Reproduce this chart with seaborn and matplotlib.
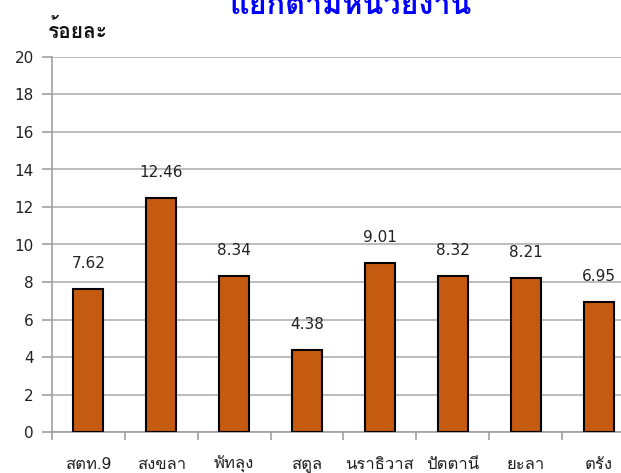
import matplotlib
matplotlib.use("Agg")
import matplotlib.pyplot as plt
import seaborn as sns
from matplotlib import font_manager, ft2font

categories = ["สตท.9", "สงขลา", "พัทลุง", "สตูล", "นราธิวาส", "ปัตตานี", "ยะลา", "ตรัง"]
values = [7.62, 12.46, 8.34, 4.38, 9.01, 8.32, 8.21, 6.95]
value_labels = ["7.62", "12.46", "8.34", "4.38", "9.01", "8.32", "8.21", "6.95"]
y_ticks = [0, 2, 4, 6, 8, 10, 12, 14, 16, 18, 20]
title_text = "แยกตามหน่วยงาน"
ylabel_text = "ร้อยละ"

# find a font with Thai glyphs
thai_font = None
for f in font_manager.fontManager.ttflist:
    try:
        cm = ft2font.FT2Font(f.fname).get_charmap()
    except Exception:
        continue
    if 0x0E23 in cm and 0x0E34 in cm:
        thai_font = f.name
        break

sns.set_theme(style="white")
fams = ["DejaVu Sans"] + ([thai_font] if thai_font else [])
plt.rcParams["font.family"] = fams
thai_fams = ([thai_font] if thai_font else []) + ["DejaVu Sans"]

fig = plt.figure(figsize=(6.21, 4.73), dpi=100)
ax = fig.add_axes([52 / 621, 41 / 473, 583 / 621, 375 / 473])

sns.barplot(x=categories, y=values, color="#C55A11", saturation=1, width=0.41,
            edgecolor="black", linewidth=1.5, ax=ax, zorder=3)

ax.set_xlim(-0.5, 7.5)
ax.set_ylim(0, 20)
ax.set_yticks(y_ticks)
ax.set_yticklabels([str(t) for t in y_ticks], fontsize=11, color="#222222")
ax.yaxis.grid(True, color="#B0B0B0", linewidth=1.2, zorder=0)
ax.xaxis.grid(False)
ax.set_axisbelow(True)

ax.set_xticks(range(len(categories)))
ax.set_xticklabels(categories, fontsize=12, family=thai_fams, color="#222222",
                   va="baseline")
ax.set_xticks([i - 0.5 for i in range(len(categories) + 1)], minor=True)
ax.tick_params(axis="x", which="major", length=0, pad=26.5)
ax.tick_params(axis="x", which="minor", length=6, width=1.2, color="#A0A0A0", direction="out", bottom=True)
ax.tick_params(axis="y", length=7, width=1.2, color="#A0A0A0", direction="out", left=True, pad=6)

for s in ["top", "right"]:
    ax.spines[s].set_visible(False)
for s in ["left", "bottom"]:
    ax.spines[s].set_color("#A0A0A0")
    ax.spines[s].set_linewidth(1.2)
ax.set_xlabel("")
ax.set_ylabel("")

for i, (v, lab) in enumerate(zip(values, value_labels)):
    ax.annotate(lab, (i, v), xytext=(0, 13), textcoords="offset points",
                ha="center", va="bottom", fontsize=11, color="#222222")

fig.text(351 / 621, 1 - 13.5 / 473, title_text, ha="center", va="baseline",
         fontsize=22, fontweight="bold", color="#0000FF", family=thai_fams)
fig.text(48 / 621, 1 - 31 / 473, ylabel_text, ha="left", va="center",
         fontsize=15, fontweight="bold", color="#111111", family=thai_fams)

fig.savefig("out.png", dpi=100)
